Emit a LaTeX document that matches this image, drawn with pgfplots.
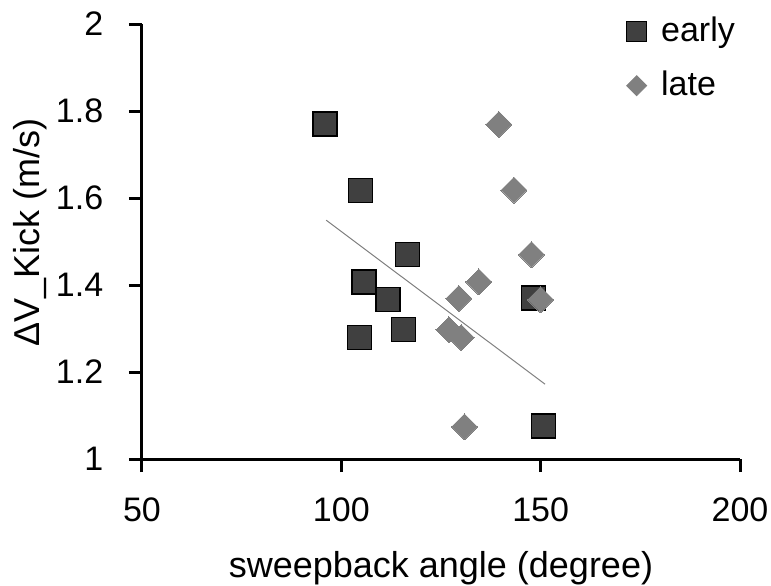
\documentclass[border=0pt]{standalone}
\usepackage{fontspec}
\setmainfont{Liberation Sans}
\usepackage{pgfplots}
\pgfplotsset{compat=1.18}
\definecolor{earlyc}{HTML}{404040}
\definecolor{latec}{HTML}{808080}
\begin{document}
\fontsize{17pt}{20pt}\selectfont
\begin{tikzpicture}
\begin{axis}[name=ax, scale only axis, width=299pt, height=217.5pt,
  xmin=50, xmax=200, ymin=1, ymax=2,
  xtick={50,100,150,200}, ytick={1,1.2,1.4,1.6,1.8,2},
  axis x line*=bottom, axis y line*=left,
  axis line style={line width=1.5pt, -},
  tick style={line width=1.5pt, black}, tick align=outside, major tick length=6.5pt,
  /pgf/number format/assume math mode=true,
  tick label style={font=\fontsize{17pt}{20pt}\selectfont},
  xticklabel style={yshift=-7pt}, yticklabel style={xshift=-7pt},
  label style={font=\fontsize{18pt}{21pt}\selectfont},
  xlabel={sweepback angle (degree)}, ylabel={ΔV\_Kick (m/s)},
  xlabel style={at={(axis description cs:0.5,0)}, anchor=base, yshift=-59pt},
  ylabel style={at={(axis description cs:-0.1722,0.52)}, anchor=base},
  clip=false,
  legend style={draw=none, fill=none, at={(0.809,1.026)}, anchor=north west,
    font=\fontsize{17pt}{20pt}\selectfont, row sep=8pt, column sep=5pt, inner sep=0pt},
  legend cell align=left,
]
\addplot[only marks, mark=square*, mark size=6pt,
  mark options={fill=earlyc, draw=black, line width=0.6pt},
  legend image code/.code={\draw[fill=earlyc, draw=black, line width=0.5pt] (-5pt,-5pt) rectangle (5pt,5pt);}]
  coordinates {(95.9,1.770)(104.8,1.618)(116.5,1.470)(105.7,1.407)(111.7,1.366)
    (115.5,1.297)(104.5,1.279)(148.2,1.370)(150.8,1.076)};
\addlegendentry{early}
\addplot[only marks, mark=square*, mark size=4.6pt,
  mark options={fill=latec, draw=latec, line width=0pt, rotate=45},
  legend image code/.code={\fill[latec] (0,5pt) -- (5pt,0) -- (0,-5pt) -- (-5pt,0) -- cycle;}]
  coordinates {(139.5,1.769)(143.3,1.618)(147.7,1.470)(134.5,1.407)(129.5,1.369)
    (150.0,1.366)(127.0,1.297)(130.1,1.279)(130.9,1.074)};
\addlegendentry{late}
\addplot[no marks, draw=gray, line width=0.5pt, forget plot]
  coordinates {(96.2,1.549)(151.1,1.172)};
\end{axis}
\pgfresetboundingbox
\path ([shift={(-71pt,-63pt)}]ax.south west) rectangle ([shift={(314.5pt,229.5pt)}]ax.south west);
\end{tikzpicture}
\end{document}
